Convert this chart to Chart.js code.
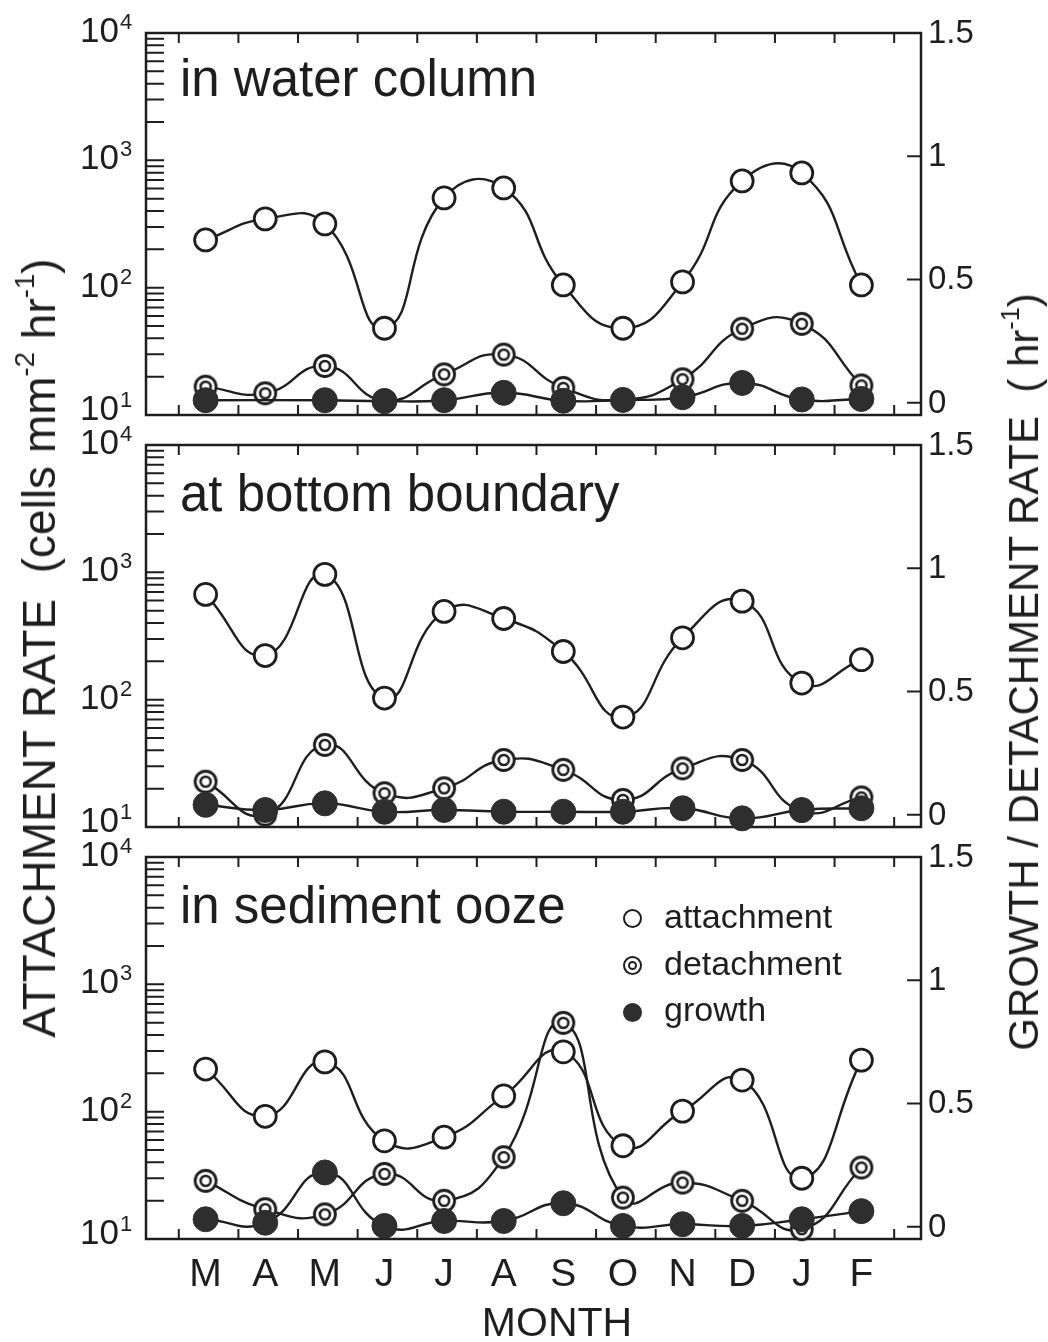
<!DOCTYPE html>
<html>
<head>
<meta charset="utf-8">
<script src="https://cdn.jsdelivr.net/npm/chart.js@4.4.1/dist/chart.umd.min.js"></script>
<style>
  body { margin: 0; background: #fff; }
  #page {
    position: relative; width: 1048px; height: 1342px; overflow: hidden;
    font-family: "Liberation Sans", Arial, sans-serif; color: #1e1e1e;
  }
  canvas.panel { position: absolute; left: 0; }
  .title { position: absolute; left: 180px; font-size: 51px; line-height: 1; white-space: nowrap; }
  .legend { position: absolute; left: 664px; font-size: 34px; line-height: 1; white-space: nowrap; }
  .mark {
    position: absolute; left: -41px; width: 15px; height: 15px; border-radius: 50%;
    border: 2.5px solid #1e1e1e; background: #fff;
  }
  .mark.ring::after {
    content: ""; position: absolute; left: 3px; top: 3px; width: 5px; height: 5px;
    border-radius: 50%; border: 2px solid #1e1e1e;
  }
  .mark.fill { background: #2e2e2e; border-color: #2e2e2e; }
  .axis-title {
    position: absolute; white-space: nowrap; line-height: 1;
    transform: translate(-50%, -50%) rotate(-90deg);
  }
  .axis-title sup { font-size: 0.6em; vertical-align: 0.75em; line-height: 0; }
  #month { position: absolute; left: 557px; top: 1302px; font-size: 41px; line-height: 1; transform: translateX(-50%); }
</style>
</head>
<body>
<div id="page">
  <canvas class="panel" id="water" width="1048" height="430" style="top:9px"></canvas>
  <canvas class="panel" id="bottom" width="1048" height="430" style="top:421px"></canvas>
  <canvas class="panel" id="ooze" width="1048" height="486" style="top:833px"></canvas>

  <div class="title" style="top:53px">in water column</div>
  <div class="title" style="top:468px">at bottom boundary</div>
  <div class="title" style="top:880px">in sediment ooze</div>

  <div class="legend" style="top:899px"><span class="mark" style="top:10px"></span>attachment</div>
  <div class="legend" style="top:946px"><span class="mark ring" style="top:10px"></span>detachment</div>
  <div class="legend" style="top:992px"><span class="mark fill" style="top:11px"></span>growth</div>

  <div class="axis-title" style="left:39px; top:648px; font-size:46px">ATTACHMENT RATE&nbsp;&nbsp;(cells mm<sup>-2</sup> hr<sup>-1</sup>)</div>
  <div class="axis-title" style="left:1024px; top:672px; font-size:42px">GROWTH / DETACHMENT RATE&nbsp;&nbsp;( hr<sup>-1</sup>)</div>
  <div id="month">MONTH</div>
</div>

<script>
const months = ["M", "A", "M", "J", "J", "A", "S", "O", "N", "D", "J", "F"];

// attachment: cells mm^-2 hr^-1 (left, log); detachment and growth: hr^-1 (right)
const waterAttach = [237, 347, 317, 48, 507, 607, 105, 48, 111, 689, 796, 105];
const waterDetach = [0.065, 0.038, 0.149, 0.01, 0.115, 0.195, 0.06, 0.012, 0.095, 0.30, 0.32, 0.07];
const waterGrowth = [0.01, null, 0.01, 0.006, 0.01, 0.04, 0.008, 0.011, 0.022, 0.08, 0.013, 0.015];

const bottomAttach = [671, 222, 964, 103, 493, 434, 239, 73, 306, 594, 135, 206];
const bottomDetach = [0.134, 0.0, 0.283, 0.087, 0.107, 0.222, 0.182, 0.06, 0.188, 0.222, 0.015, 0.07];
const bottomGrowth = [0.04, 0.019, 0.046, 0.012, 0.019, 0.012, 0.012, 0.012, 0.026, -0.015, 0.019, 0.026];

const oozeAttach = [216, 92, 246, 59, 63, 133, 295, 54, 101, 177, 30, 254];
const oozeDetach = [0.186, 0.071, 0.05, 0.214, 0.105, 0.282, 0.827, 0.118, 0.179, 0.105, -0.01, 0.24];
const oozeGrowth = [0.03, 0.016, 0.22, 0.003, 0.023, 0.023, 0.095, 0.003, 0.01, 0.003, 0.03, 0.063];

const leftTicks = [10, 100, 1000, 10000];
const leftTickExp = ["1", "2", "3", "4"];
const rightTicks = [0, 0.5, 1, 1.5];
const rightTickLabels = ["0", "0.5", "1", "1.5"];

const INK = "#1e1e1e";
const FONT = '"Liberation Sans", Arial, sans-serif';

// bullseye marker for detachment points
function ringMarker(r) {
    const c = document.createElement("canvas");
    const s = Math.ceil(r * 2 + 5);
    c.width = c.height = s;
    const g = c.getContext("2d");
    g.fillStyle = "#fff";
    g.strokeStyle = INK;
    g.lineWidth = 2.8;
    g.beginPath(); g.arc(s / 2, s / 2, r, 0, Math.PI * 2); g.fill(); g.stroke();
    g.lineWidth = 2.6;
    g.beginPath(); g.arc(s / 2, s / 2, r * 0.48, 0, Math.PI * 2); g.stroke();
    return c;
}
const ring = ringMarker(10.5);

// box, inward ticks and tick labels
const axesPlugin = {
    id: "axesBox",
    beforeDatasetsDraw(chart) {
        const { ctx, chartArea: a, scales } = chart;
        ctx.save();
        ctx.strokeStyle = INK;
        ctx.lineWidth = 2.5;
        ctx.strokeRect(a.left, a.top, a.right - a.left, a.bottom - a.top);

        ctx.lineWidth = 2;
        ctx.beginPath();
        // month ticks sit between the months, top and bottom
        for (let k = 0; k <= 12; k++) {
            const px = scales.x.getPixelForValue(k - 0.45);
            ctx.moveTo(px, a.bottom); ctx.lineTo(px, a.bottom - 10);
            ctx.moveTo(px, a.top); ctx.lineTo(px, a.top + 10);
        }
        // log minor ticks on the left
        for (let d = 10; d < 10000; d *= 10) {
            for (let m = 2; m <= 10; m++) {
                const py = scales.y.getPixelForValue(m * d);
                ctx.moveTo(a.left, py); ctx.lineTo(a.left + 18, py);
            }
        }
        rightTicks.forEach(v => {
            const py = scales.yR.getPixelForValue(v);
            ctx.moveTo(a.right, py); ctx.lineTo(a.right - 14, py);
        });
        ctx.stroke();
        ctx.restore();
    },
    afterDraw(chart, args, opts) {
        const { ctx, chartArea: a, scales } = chart;
        ctx.save();
        ctx.fillStyle = INK;
        ctx.textBaseline = "alphabetic";

        leftTicks.forEach((v, i) => {
            const py = scales.y.getPixelForValue(v) + (i === 0 ? 5 : 9);
            ctx.font = `35px ${FONT}`;
            ctx.textAlign = "right";
            ctx.fillText("10", 119, py);
            ctx.font = `22px ${FONT}`;
            ctx.textAlign = "left";
            ctx.fillText(leftTickExp[i], 120, py - 13);
        });

        ctx.font = `33px ${FONT}`;
        ctx.textAlign = "left";
        rightTicks.forEach((v, i) => {
            ctx.fillText(rightTickLabels[i], a.right + 7, scales.yR.getPixelForValue(v) + 10);
        });

        if (opts.months) {
            ctx.font = `39px ${FONT}`;
            ctx.textAlign = "center";
            months.forEach((m, i) => {
                ctx.fillText(m, scales.x.getPixelForValue(i), a.bottom + 47);
            });
        }
        ctx.restore();
    }
};

function series(values) {
    return values.map((v, i) => ({ x: i, y: v }));
}

function makePanel(id, attach, detach, growth, bottomPad, showMonths) {
    const lineBase = { borderColor: INK, borderWidth: 2.4, tension: 0.5, spanGaps: true, clip: false, fill: false };
    return new Chart(document.getElementById(id), {
        type: "line",
        data: {
            datasets: [
                Object.assign({
                    label: "growth", data: series(growth), yAxisID: "yR",
                    pointStyle: "circle", pointRadius: 12.5, pointBorderWidth: 1,
                    pointBackgroundColor: "#2e2e2e", pointBorderColor: "#2e2e2e"
                }, lineBase),
                Object.assign({
                    label: "detachment", data: series(detach), yAxisID: "yR",
                    pointStyle: ring, pointRadius: 11
                }, lineBase),
                Object.assign({
                    label: "attachment", data: series(attach), yAxisID: "y",
                    pointStyle: "circle", pointRadius: 11, pointBorderWidth: 2.8,
                    pointBackgroundColor: "#fff", pointBorderColor: INK
                }, lineBase)
            ]
        },
        options: {
            responsive: false,
            animation: false,
            events: [],
            layout: { padding: { left: 146, right: 127, top: 24, bottom: bottomPad } },
            scales: {
                x: { type: "linear", min: -1, max: 12, display: false },
                y: { type: "logarithmic", min: 10, max: 10000, display: false },
                yR: { type: "linear", position: "right", min: -0.05, max: 1.5, display: false }
            },
            plugins: {
                legend: { display: false },
                tooltip: { enabled: false },
                axesBox: { months: showMonths }
            }
        },
        plugins: [axesPlugin]
    });
}

makePanel("water", waterAttach, waterDetach, waterGrowth, 24, false);
makePanel("bottom", bottomAttach, bottomDetach, bottomGrowth, 24, false);
makePanel("ooze", oozeAttach, oozeDetach, oozeGrowth, 80, true);
</script>
</body>
</html>
